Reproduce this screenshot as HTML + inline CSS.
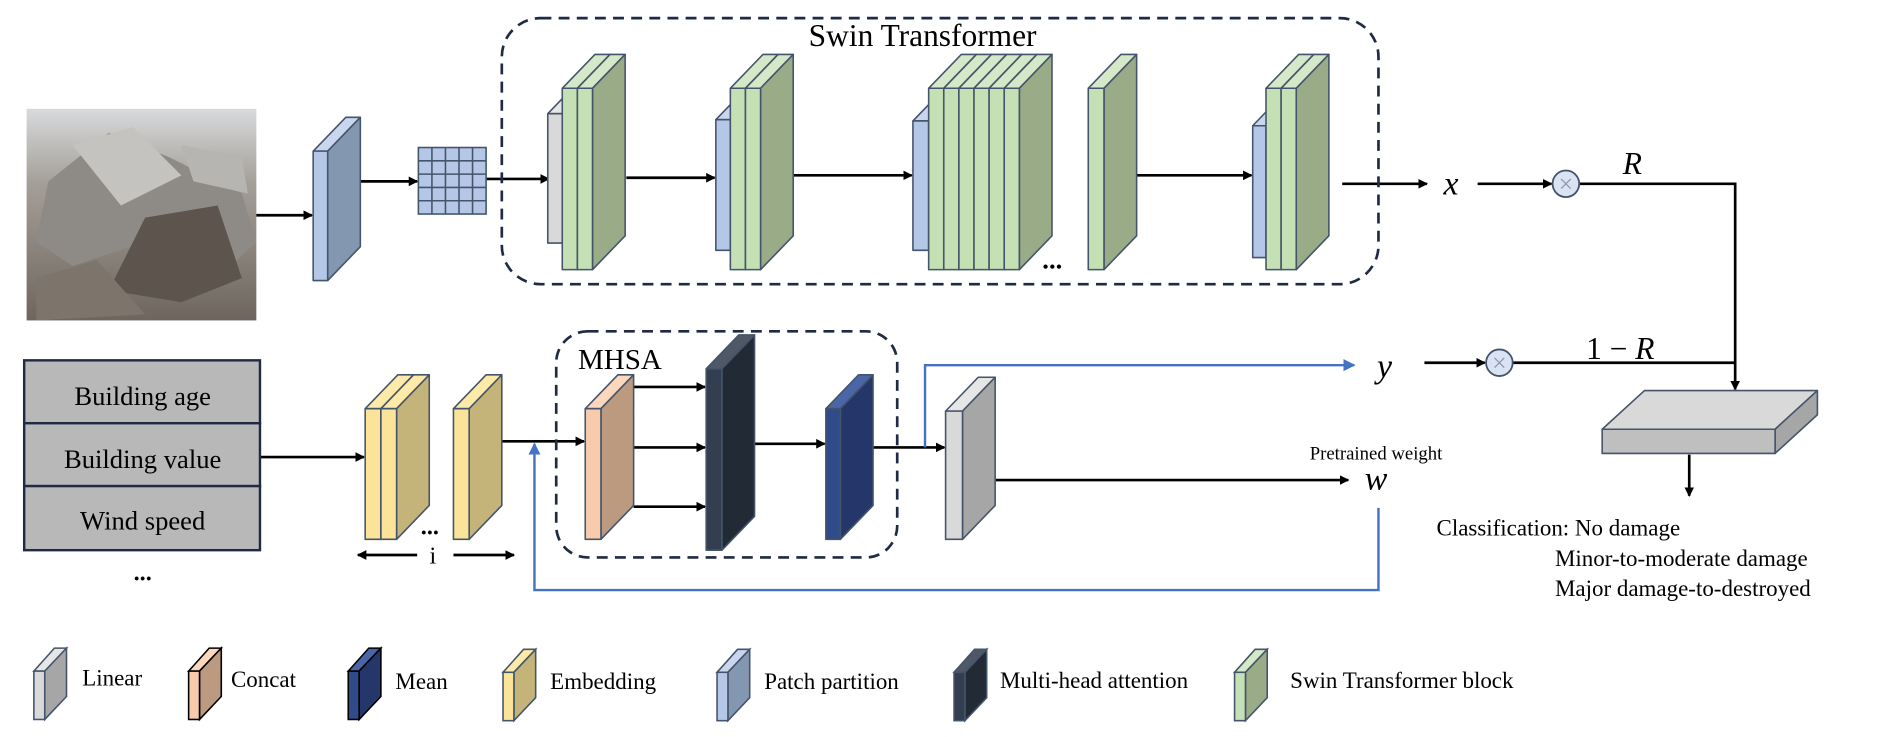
<!DOCTYPE html>
<html><head><meta charset="utf-8"><style>
html,body{margin:0;padding:0;background:#fff;}
svg{display:block;}
text{font-family:"Liberation Serif",serif;fill:#000;}
.m{font-style:italic;}
</style></head><body>
<svg width="1896" height="737" viewBox="0 0 1568 609.5" preserveAspectRatio="none" xmlns="http://www.w3.org/2000/svg">
<defs>
<marker id="a" markerWidth="8" markerHeight="8" refX="7" refY="4" orient="auto" markerUnits="userSpaceOnUse"><path d="M0,0 L8,4 L0,8 z" fill="#000"/></marker>
<marker id="b" markerWidth="10" markerHeight="10" refX="9" refY="5" orient="auto" markerUnits="userSpaceOnUse"><path d="M0,0 L10,5 L0,10 z" fill="#4472c4"/></marker>
<linearGradient id="ph" x1="0" y1="0" x2="0" y2="1"><stop offset="0" stop-color="#d8dadc"/><stop offset="0.35" stop-color="#a49f98"/><stop offset="1" stop-color="#6e665e"/></linearGradient>
</defs>
<!-- photo -->
<rect x="22" y="90" width="190" height="175" fill="url(#ph)"/>
<polygon points="40,150 90,110 140,130 200,160 212,200 180,230 120,200 60,220 30,200" fill="#8e8a85"/>
<polygon points="60,120 110,105 150,145 100,170" fill="#c4c3c0"/>
<polygon points="120,180 180,170 200,230 150,250 90,240" fill="#5d554d"/>
<polygon points="30,230 80,215 120,260 30,265" fill="#7d756c"/>
<polygon points="150,120 200,130 205,160 160,150" fill="#b7b5b2"/>

<g stroke="#000" stroke-width="2.2" fill="none" marker-end="url(#a)">
<line x1="212" y1="178" x2="258" y2="178"/>
<line x1="298" y1="150" x2="345" y2="150"/>
<line x1="402" y1="148" x2="454" y2="148"/>
<line x1="518" y1="147" x2="591" y2="147"/>
<line x1="656" y1="145" x2="754" y2="145"/>
<line x1="940" y1="145" x2="1035" y2="145"/>
<line x1="1110" y1="152" x2="1180" y2="152"/>
<line x1="1222" y1="152" x2="1283" y2="152"/>
<line x1="1178" y1="300" x2="1228" y2="300"/>
<line x1="1435" y1="300" x2="1435" y2="322"/>
<line x1="1397" y1="376" x2="1397" y2="410"/>
<line x1="215" y1="378" x2="301" y2="378"/>
<line x1="415" y1="365" x2="483" y2="365"/>
<line x1="524" y1="320" x2="583" y2="320"/>
<line x1="524" y1="370" x2="583" y2="370"/>
<line x1="524" y1="419" x2="583" y2="419"/>
<line x1="624" y1="367" x2="682" y2="367"/>
<line x1="722" y1="370" x2="781" y2="370"/>
<line x1="823" y1="397" x2="1115" y2="397"/>
<line x1="345" y1="459" x2="296" y2="459"/>
<line x1="375" y1="459" x2="425" y2="459"/>
</g>
<polyline points="1306,152 1435,152 1435,300 1251,300" fill="none" stroke="#000" stroke-width="2.2"/>

<!-- blue lines -->
<polyline points="765,370 765,302 1120,302" fill="none" stroke="#4472c4" stroke-width="2" marker-end="url(#b)"/>
<polyline points="1140,420 1140,488 442,488 442,367" fill="none" stroke="#4472c4" stroke-width="2" marker-end="url(#b)"/>

<!-- dashed boxes -->
<rect x="415" y="15" width="725" height="220" rx="32" fill="none" stroke="#1f2a44" stroke-width="2.2" stroke-dasharray="9,6"/>
<rect x="460" y="274" width="282" height="187" rx="26" fill="none" stroke="#1f2a44" stroke-width="2.2" stroke-dasharray="9,6"/>
<text x="763" y="38" font-size="26" text-anchor="middle">Swin Transformer</text>
<text x="478" y="305" font-size="24">MHSA</text>

<!-- grid -->
<g stroke="#44546a" stroke-width="1.3">
<rect x="346" y="122" width="56" height="55" fill="#b4c7e7"/>
<line x1="357.2" y1="122" x2="357.2" y2="177"/><line x1="368.4" y1="122" x2="368.4" y2="177"/><line x1="379.6" y1="122" x2="379.6" y2="177"/><line x1="390.8" y1="122" x2="390.8" y2="177"/>
<line x1="346" y1="133" x2="402" y2="133"/><line x1="346" y1="144" x2="402" y2="144"/><line x1="346" y1="155" x2="402" y2="155"/><line x1="346" y1="166" x2="402" y2="166"/>
</g>

<g stroke="#44546a" stroke-width="1.3" stroke-linejoin="round">
<!-- patch partition -->
<polygon points="259,125 286,97 298,97 271,125" fill="#c9d6ee"/><polygon points="271,125 298,97 298,204 271,232" fill="#8497b0"/><rect x="259" y="125" width="12" height="107" fill="#b4c7e7"/>
<!-- stage1 -->
<polygon points="453,94 480,66 493,66 466,94" fill="#e6e6e6"/><rect x="453" y="94" width="13" height="107" fill="#d9d9d9"/>
<polygon points="465,73 492,45 504.5,45 477.5,73" fill="#d5e8c8"/><polygon points="477.5,73 504.5,45 504.5,195 477.5,223" fill="#9aab88"/><rect x="465" y="73" width="12.5" height="150" fill="#c5e0b4"/>
<polygon points="477.5,73 504.5,45 517,45 490,73" fill="#d5e8c8"/><polygon points="490,73 517,45 517,195 490,223" fill="#9aab88"/><rect x="477.5" y="73" width="12.5" height="150" fill="#c5e0b4"/>
<!-- stage2 -->
<polygon points="592,99 619,71 631,71 604,99" fill="#c9d6ee"/><rect x="592" y="99" width="12" height="108" fill="#b4c7e7"/>
<polygon points="604,73 631,45 643.5,45 616.5,73" fill="#d5e8c8"/><polygon points="616.5,73 643.5,45 643.5,195 616.5,223" fill="#9aab88"/><rect x="604" y="73" width="12.5" height="150" fill="#c5e0b4"/>
<polygon points="616.5,73 643.5,45 656,45 629,73" fill="#d5e8c8"/><polygon points="629,73 656,45 656,195 629,223" fill="#9aab88"/><rect x="616.5" y="73" width="12.5" height="150" fill="#c5e0b4"/>
<!-- stage3 -->
<polygon points="755,100 782,72 795,72 768,100" fill="#c9d6ee"/><rect x="755" y="100" width="13" height="107" fill="#b4c7e7"/>
<polygon points="768,73 795,45 807.5,45 780.5,73" fill="#d5e8c8"/><polygon points="780.5,73 807.5,45 807.5,195 780.5,223" fill="#9aab88"/><rect x="768" y="73" width="12.5" height="150" fill="#c5e0b4"/>
<polygon points="780.5,73 807.5,45 820,45 793,73" fill="#d5e8c8"/><polygon points="793,73 820,45 820,195 793,223" fill="#9aab88"/><rect x="780.5" y="73" width="12.5" height="150" fill="#c5e0b4"/>
<polygon points="793,73 820,45 832.5,45 805.5,73" fill="#d5e8c8"/><polygon points="805.5,73 832.5,45 832.5,195 805.5,223" fill="#9aab88"/><rect x="793" y="73" width="12.5" height="150" fill="#c5e0b4"/>
<polygon points="805.5,73 832.5,45 845,45 818,73" fill="#d5e8c8"/><polygon points="818,73 845,45 845,195 818,223" fill="#9aab88"/><rect x="805.5" y="73" width="12.5" height="150" fill="#c5e0b4"/>
<polygon points="818,73 845,45 857.5,45 830.5,73" fill="#d5e8c8"/><polygon points="830.5,73 857.5,45 857.5,195 830.5,223" fill="#9aab88"/><rect x="818" y="73" width="12.5" height="150" fill="#c5e0b4"/>
<polygon points="830.5,73 857.5,45 870,45 843,73" fill="#d5e8c8"/><polygon points="843,73 870,45 870,195 843,223" fill="#9aab88"/><rect x="830.5" y="73" width="12.5" height="150" fill="#c5e0b4"/>
<!-- stage4 -->
<polygon points="900,73 927,45 940,45 913,73" fill="#d5e8c8"/><polygon points="913,73 940,45 940,195 913,223" fill="#9aab88"/><rect x="900" y="73" width="13" height="150" fill="#c5e0b4"/>
<!-- stage5 -->
<polygon points="1036,104 1063,76 1074,76 1047,104" fill="#c9d6ee"/><rect x="1036" y="104" width="11" height="109" fill="#b4c7e7"/>
<polygon points="1047,73 1074,45 1086.5,45 1059.5,73" fill="#d5e8c8"/><polygon points="1059.5,73 1086.5,45 1086.5,195 1059.5,223" fill="#9aab88"/><rect x="1047" y="73" width="12.5" height="150" fill="#c5e0b4"/>
<polygon points="1059.5,73 1086.5,45 1099,45 1072,73" fill="#d5e8c8"/><polygon points="1072,73 1099,45 1099,195 1072,223" fill="#9aab88"/><rect x="1059.5" y="73" width="12.5" height="150" fill="#c5e0b4"/>

<!-- embedding -->
<polygon points="302,338 329,310 342,310 315,338" fill="#fde9a8"/><polygon points="315,338 342,310 342,418 315,446" fill="#c4b47a"/><rect x="302" y="338" width="13" height="108" fill="#fbe39a"/>
<polygon points="315,338 342,310 355,310 328,338" fill="#fde9a8"/><polygon points="328,338 355,310 355,418 328,446" fill="#c4b47a"/><rect x="315" y="338" width="13" height="108" fill="#fbe39a"/>
<polygon points="375,338 402,310 415,310 388,338" fill="#fde9a8"/><polygon points="388,338 415,310 415,418 388,446" fill="#c4b47a"/><rect x="375" y="338" width="13" height="108" fill="#fbe39a"/>
<!-- concat -->
<polygon points="484,338 511,310 524,310 497,338" fill="#fbd7bd"/><polygon points="497,338 524,310 524,418 497,446" fill="#bc9a80"/><rect x="484" y="338" width="13" height="108" fill="#f8cbad"/>
<!-- MHA -->
<polygon points="584,305 611,277 624,277 597,305" fill="#4e5866"/><polygon points="597,305 624,277 624,427 597,455" fill="#222a35"/><rect x="584" y="305" width="13" height="150" fill="#333f50"/>
<!-- mean -->
<polygon points="683,338 710,310 722,310 695,338" fill="#4a66a8"/><polygon points="695,338 722,310 722,418 695,446" fill="#25376a"/><rect x="683" y="338" width="12" height="108" fill="#2f4b8a"/>
<!-- linear -->
<polygon points="782,340 809,312 823,312 796,340" fill="#e6e6e6"/><polygon points="796,340 823,312 823,418 796,446" fill="#a6a6a6"/><rect x="782" y="340" width="14" height="106" fill="#d9d9d9"/>
<!-- platform -->
<polygon points="1325,355 1360,323 1503,323 1468,355" fill="#d9d9d9"/><polygon points="1468,355 1503,323 1503,343 1468,375" fill="#a6a6a6"/><rect x="1325" y="355" width="143" height="20" fill="#bfbfbf"/>
</g>
<text x="862" y="222" font-size="22" font-weight="bold">...</text>
<text x="348" y="442" font-size="20" font-weight="bold">...</text>
<text x="358" y="466" font-size="20" text-anchor="middle">i</text>

<!-- circles -->
<g stroke="#44546a" stroke-width="1.5"><circle cx="1295" cy="152" r="11" fill="#dae3f3"/><circle cx="1240" cy="300" r="11" fill="#dae3f3"/></g>
<g stroke="#8a95a8" stroke-width="1"><path d="M1291,148 L1299,156 M1299,148 L1291,156"/><path d="M1236,296 L1244,304 M1244,296 L1236,304"/></g>

<text x="1200" y="161" font-size="28" class="m" text-anchor="middle">x</text>
<text x="1350" y="144" font-size="26" class="m" text-anchor="middle">R</text>
<text x="1145" y="312" font-size="28" class="m" text-anchor="middle">y</text>
<text x="1340" y="297" font-size="26" text-anchor="middle">1 − <tspan class="m">R</tspan></text>
<text x="1138" y="405" font-size="28" class="m" text-anchor="middle">w</text>
<text x="1138" y="380" font-size="15.5" text-anchor="middle">Pretrained weight</text>

<text x="1188" y="443" font-size="19">Classification: No damage</text>
<text x="1286" y="468" font-size="19">Minor-to-moderate damage</text>
<text x="1286" y="493" font-size="19">Major damage-to-destroyed</text>

<!-- table -->
<g stroke="#1f2a44" stroke-width="2" fill="#b8b8b8">
<rect x="20" y="298" width="195" height="52"/><rect x="20" y="350" width="195" height="52"/><rect x="20" y="402" width="195" height="53"/>
</g>
<text x="118" y="335" font-size="22" text-anchor="middle">Building age</text>
<text x="118" y="387" font-size="22" text-anchor="middle">Building value</text>
<text x="118" y="438" font-size="22" text-anchor="middle">Wind speed</text>
<text x="118" y="480" font-size="20" text-anchor="middle" font-weight="bold">...</text>

<!-- legend -->
<g stroke="#44546a" stroke-width="1.3">
<polygon points="28,555 45,536 55,536 38,555" fill="#e6e6e6"/><polygon points="37,555 55,536 55,576 37,595" fill="#a6a6a6"/><rect x="28" y="555" width="9" height="40" fill="#d9d9d9"/>
<polygon points="156,555 173,536 183,536 165,555" fill="#fbd7bd" stroke="#000"/><polygon points="165,555 183,536 183,576 165,595" fill="#bc9a80" stroke="#000"/><rect x="156" y="555" width="9" height="40" fill="#f8cbad" stroke="#000"/>
<polygon points="288,555 305,536 315,536 297,555" fill="#4a66a8" stroke="#000"/><polygon points="297,555 315,536 315,576 297,595" fill="#25376a" stroke="#000"/><rect x="288" y="555" width="9" height="40" fill="#2f4b8a" stroke="#000"/>
<polygon points="416,556 433,537 443,537 425,556" fill="#fde9a8"/><polygon points="425,556 443,537 443,577 425,596" fill="#c4b47a"/><rect x="416" y="556" width="9" height="40" fill="#fbe39a"/>
<polygon points="593,556 610,537 620,537 602,556" fill="#c9d6ee"/><polygon points="602,556 620,537 620,577 602,596" fill="#8497b0"/><rect x="593" y="556" width="9" height="40" fill="#b4c7e7"/>
<polygon points="789,556 806,537 816,537 798,556" fill="#4e5866"/><polygon points="798,556 816,537 816,577 798,596" fill="#222a35"/><rect x="789" y="556" width="9" height="40" fill="#333f50"/>
<polygon points="1021,556 1038,537 1048,537 1030,556" fill="#d5e8c8"/><polygon points="1030,556 1048,537 1048,577 1030,596" fill="#9aab88"/><rect x="1021" y="556" width="9" height="40" fill="#c5e0b4"/>
</g>
<g font-size="19">
<text x="68" y="567">Linear</text>
<text x="191" y="568">Concat</text>
<text x="327" y="570">Mean</text>
<text x="455" y="570">Embedding</text>
<text x="632" y="570">Patch partition</text>
<text x="827" y="569">Multi-head attention</text>
<text x="1067" y="569">Swin Transformer block</text>
</g>
</svg>
</body></html>
